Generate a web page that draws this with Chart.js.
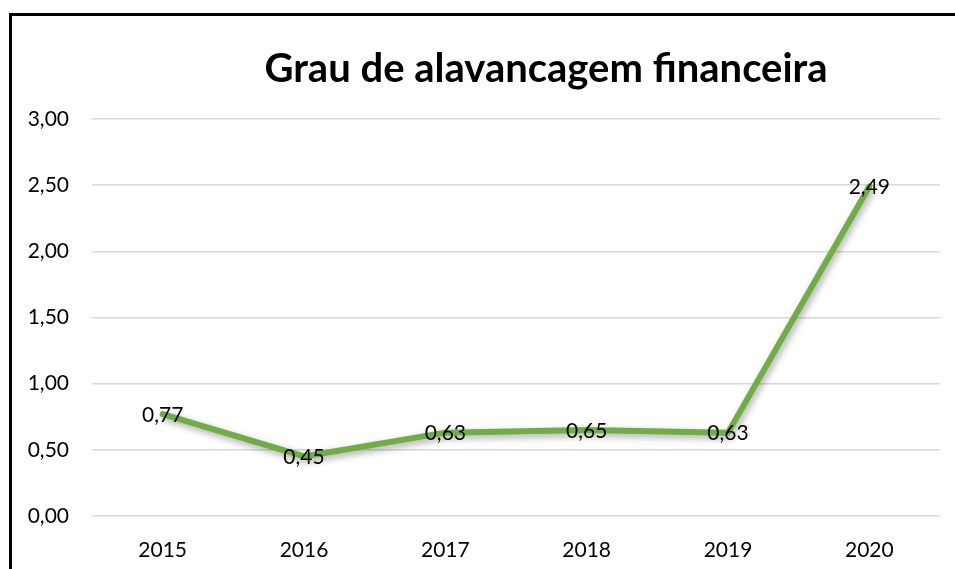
<!DOCTYPE html>
<html>
<head>
<meta charset="utf-8">
<script src="https://cdn.jsdelivr.net/npm/chart.js@4"></script>
<style>
  html, body { margin: 0; padding: 0; background: #fff; overflow: hidden; }
  #wrap { position: relative; width: 955px; height: 569px; }
  #frame {
    position: absolute; left: 9px; top: 13px;
    width: 980px; height: 600px;
    border: 3px solid #000; box-sizing: border-box;
  }
  canvas { position: absolute; left: 0; top: 0; }
</style>
</head>
<body>
<div id="wrap">
  <div id="frame"></div>
  <canvas id="chart" width="955" height="569"></canvas>
</div>
<script>
// --- Data ---
const years = ['2015', '2016', '2017', '2018', '2019', '2020'];
const leverage = [0.77, 0.45, 0.63, 0.65, 0.63, 2.49];
const yMin = 0, yMax = 3, yStep = 0.5;
const chartTitle = 'Grau de alavancagem financeira';

const fmt = v => v.toFixed(2).replace('.', ',');
const textFont = 'Lato, "Open Sans", sans-serif';

// shadow under the line, like the Excel original
const shadowPlugin = {
  id: 'lineShadow',
  beforeDatasetsDraw(chart) {
    const ctx = chart.ctx;
    ctx.save();
    ctx.shadowColor = 'rgba(0,0,0,0.35)';
    ctx.shadowBlur = 7;
    ctx.shadowOffsetX = 2;
    ctx.shadowOffsetY = 3;
  },
  afterDatasetsDraw(chart) {
    chart.ctx.restore();
  }
};

// value labels centred on each point
const valueLabels = {
  id: 'valueLabels',
  afterDatasetsDraw(chart) {
    const ctx = chart.ctx;
    const meta = chart.getDatasetMeta(0);
    ctx.save();
    ctx.font = '21px ' + textFont;
    ctx.fillStyle = '#000';
    ctx.textAlign = 'center';
    ctx.textBaseline = 'middle';
    meta.data.forEach((pt, i) => {
      ctx.fillText(fmt(chart.data.datasets[0].data[i]), pt.x, pt.y + 1);
    });
    ctx.restore();
  }
};

// title, offset to the right like in the original
const titlePlugin = {
  id: 'bigTitle',
  afterDraw(chart) {
    const ctx = chart.ctx;
    ctx.save();
    ctx.font = 'bold 40px ' + textFont;
    ctx.fillStyle = '#000';
    ctx.textAlign = 'center';
    ctx.textBaseline = 'alphabetic';
    ctx.fillText(chartTitle, 546, 82);
    ctx.restore();
  }
};

new Chart(document.getElementById('chart'), {
  type: 'line',
  data: {
    labels: years,
    datasets: [{
      data: leverage,
      borderColor: '#70ad47',
      borderWidth: 6,
      borderCapStyle: 'round',
      borderJoinStyle: 'round',
      pointRadius: 0,
      tension: 0,
      fill: false
    }]
  },
  options: {
    responsive: false,
    animation: false,
    layout: { padding: { top: 119, right: 15, left: 0, bottom: 0 } },
    plugins: {
      legend: { display: false },
      title: { display: false },
      tooltip: { enabled: false }
    },
    scales: {
      x: {
        offset: true,
        grid: { display: false },
        border: { display: false },
        ticks: { color: '#000', font: { family: textFont, size: 21 }, padding: 14 },
        afterFit(scale) { scale.height = 53; }
      },
      y: {
        min: yMin, max: yMax,
        grid: { color: '#d9d9d9', lineWidth: 1.5, drawTicks: false },
        border: { display: false },
        ticks: {
          stepSize: yStep,
          color: '#000',
          font: { family: textFont, size: 21 },
          padding: 23,
          callback: v => fmt(v)
        },
        afterFit(scale) { scale.width = 92; }
      }
    }
  },
  plugins: [shadowPlugin, valueLabels, titlePlugin]
});
</script>
</body>
</html>
